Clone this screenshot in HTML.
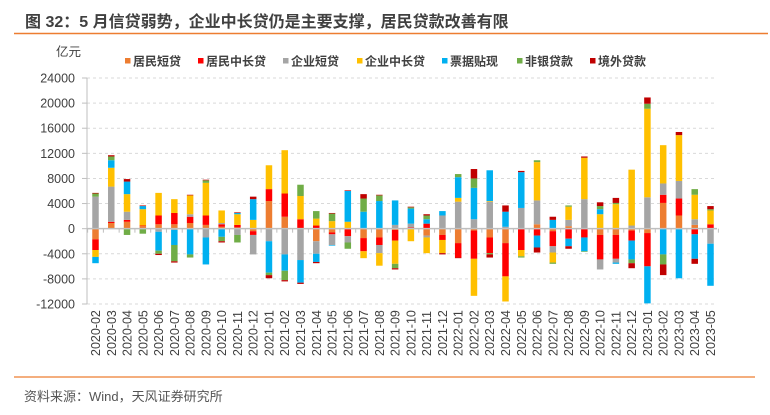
<!DOCTYPE html>
<html><head><meta charset="utf-8">
<style>
body{margin:0;background:#fff;}
#wrap{position:relative;width:770px;height:415px;font-family:"Liberation Sans","Noto Sans CJK SC",sans-serif;}
#title{position:absolute;left:25px;top:8px;font-size:16px;font-weight:bold;color:#404040;white-space:nowrap;}
#src{position:absolute;left:24px;top:386px;font-size:13px;color:#555;}
</style></head>
<body>
<div id="wrap">
<div id="title">图 32：5 月信贷弱势，企业中长贷仍是主要支撑，居民贷款改善有限</div>
<svg id="chart" width="770" height="415" style="position:absolute;left:0;top:0"></svg>
<div id="src">资料来源：Wind，天风证券研究所</div>
</div>
<script>
const categories=["2020-02","2020-03","2020-04","2020-05","2020-06","2020-07","2020-08","2020-09","2020-10","2020-11","2020-12","2021-01","2021-02","2021-03","2021-04","2021-05","2021-06","2021-07","2021-08","2021-09","2021-10","2021-11","2021-12","2022-01","2022-02","2022-03","2022-04","2022-05","2022-06","2022-07","2022-08","2022-09","2022-10","2022-11","2022-12","2023-01","2023-02","2023-03","2023-04","2023-05"];
const seriesNames=["居民短贷","居民中长贷","企业短贷","企业中长贷","票据贴现","非银贷款","境外贷款"];
const seriesColors=["#ED7D31","#FF0000","#A5A5A5","#FFC000","#00B0F0","#70AD47","#C00000"];
const householdShort=[-1700,900,1100,400,700,700,900,600,300,200,-400,4400,1900,0,-2000,-600,0,-1500,-1400,-200,0,-1100,-1000,-2300,-300,-1400,-2300,0,700,-400,400,0,-1000,-1000,-300,-700,4100,2100,600,0];
const householdLong=[-1700,200,300,100,1400,1800,1000,1500,400,400,-600,1900,3700,1500,500,-300,-1200,-2100,-1200,-1700,200,800,-800,-2300,-4500,-2500,-5300,-3400,-1100,-2400,-1600,-1400,-3900,-3800,-1600,-5300,1300,2700,-900,700];
const corpShort=[5100,5600,1300,0,-500,-200,400,-1400,200,-1000,-3100,-2000,-4100,-5000,-2000,-1700,-1000,0,-1300,600,600,-300,2100,4300,1500,4300,300,3300,3800,-1000,1000,4700,-1600,-600,500,5000,1800,2800,900,-2400];
const corpLong=[-1100,3000,2800,2600,3600,2200,3000,5200,2000,1700,1400,3800,6900,3700,1100,1200,1100,-1100,-2000,-3700,-2000,-2500,-2100,600,-5900,100,-4000,-1000,6100,-1600,2100,6600,2300,3900,8900,14100,6100,7300,3900,2200];
const billDiscount=[-1000,1200,2000,500,-3000,-2400,-4100,-4300,-1300,200,3300,-5000,-2600,-3600,-1300,-100,4900,2700,4400,3900,2400,700,700,3300,5000,4900,2400,5700,-1900,1400,-1200,-2200,800,-200,-3000,-5900,-4100,-7900,-3900,-6700];
const nonBank=[500,600,-1000,-800,-500,-2600,-500,400,-700,-1200,0,-400,-1500,1800,1200,1200,-1000,2100,900,-700,200,600,0,500,1500,-200,0,-200,300,-200,200,-100,500,200,-600,800,-1600,0,900,200];
const overseas=[100,200,400,100,-200,-200,100,100,-200,100,400,-500,-200,-200,-200,100,100,700,100,-200,100,200,-200,-100,1500,-500,1000,200,-800,500,-400,200,600,800,-800,1000,-1700,500,-800,500];
const seriesValues=[householdShort,householdLong,corpShort,corpLong,billDiscount,nonBank,overseas];
const yTicks=[24000,20000,16000,12000,8000,4000,0,-4000,-8000,-12000];
const yTickLabels=["24000","20000","16000","12000","8000","4000","0","-4000","-8000","-12000"];

const svg=document.getElementById('chart');
const NS="http://www.w3.org/2000/svg";
const yMin=-12000,yMax=24000,pTop=78,pBot=304,axisX=87,firstX=95.5,lastX=710.5,barW=6.5,plotRight=717;
function y(v){return pBot-(v-yMin)/(yMax-yMin)*(pBot-pTop);}
function x(i){return firstX+i*(lastX-firstX)/(categories.length-1);}
function mk(tag,attrs){const e=document.createElementNS(NS,tag);for(const k in attrs)e.setAttribute(k,attrs[k]);svg.appendChild(e);return e;}

// grid + y labels
yTicks.forEach((t,i)=>{
  if(t!==0){const g=mk('line',{x1:axisX,x2:plotRight,y1:y(t),y2:y(t),stroke:'#d9d9d9','stroke-dasharray':'3,3','stroke-width':1});
  
  }
  const tk=mk('line',{x1:axisX-5,x2:axisX,y1:y(t),y2:y(t),stroke:'#bfbfbf'});
  
  
  const tx=mk('text',{x:75,y:y(t)+4.5,'text-anchor':'end','font-size':12.5,fill:'#404040'});
  tx.textContent=yTickLabels[i];
  
  
});
const ax=mk('line',{x1:axisX,x2:axisX,y1:pTop,y2:pBot,stroke:'#bfbfbf'});


const yt=mk('text',{x:56,y:56,'font-size':12.5,fill:'#404040'});
yt.textContent='亿元';



// bars
categories.forEach((c,i)=>{
  let pos=0,neg=0;
  seriesValues.forEach((arr,s)=>{
    const v=arr[i];if(!v)return;
    let y0,y1;
    if(v>0){y0=y(pos+v);y1=y(pos);pos+=v;}else{y0=y(neg);y1=y(neg+v);neg+=v;}
    const r=mk('rect',{x:x(i)-barW/2,y:y0,width:barW,height:Math.max(0.5,y1-y0),fill:seriesColors[s]});
    
    
  });
  const lb=mk('text',{transform:`translate(${x(i)+4.5},356) rotate(-90)`,'font-size':12.5,fill:'#404040'});
  lb.textContent=c;
  
  
});
// zero line + ticks
const z=mk('line',{x1:axisX,x2:plotRight,y1:y(0),y2:y(0),stroke:'#bfbfbf','stroke-width':1.5});


for(let i=0;i<=categories.length;i++){
  const bx=x(i)-(lastX-firstX)/(categories.length-1)/2;
  const t=mk('line',{x1:bx,x2:bx,y1:y(0),y2:y(0)+4,stroke:'#bfbfbf'});
  
  
}
// title underline & footer line
const l1=mk('line',{x1:14,x2:768,y1:33.5,y2:33.5,stroke:'#ED7D31','stroke-width':1.5});


const l2=mk('line',{x1:14,x2:755,y1:377,y2:377,stroke:'#ED7D31','stroke-width':1.2});


// legend
const legX=[125,198,283,357,442,517,590];
seriesNames.forEach((n,s)=>{
  const m=mk('rect',{x:legX[s],y:58,width:5.5,height:5.5,fill:seriesColors[s]});
  
  
  const t=mk('text',{x:legX[s]+8,y:65.5,'font-size':12,'font-weight':'bold',fill:'#404040'});
  t.textContent=n;
  
  
});
</script>
</body></html>
